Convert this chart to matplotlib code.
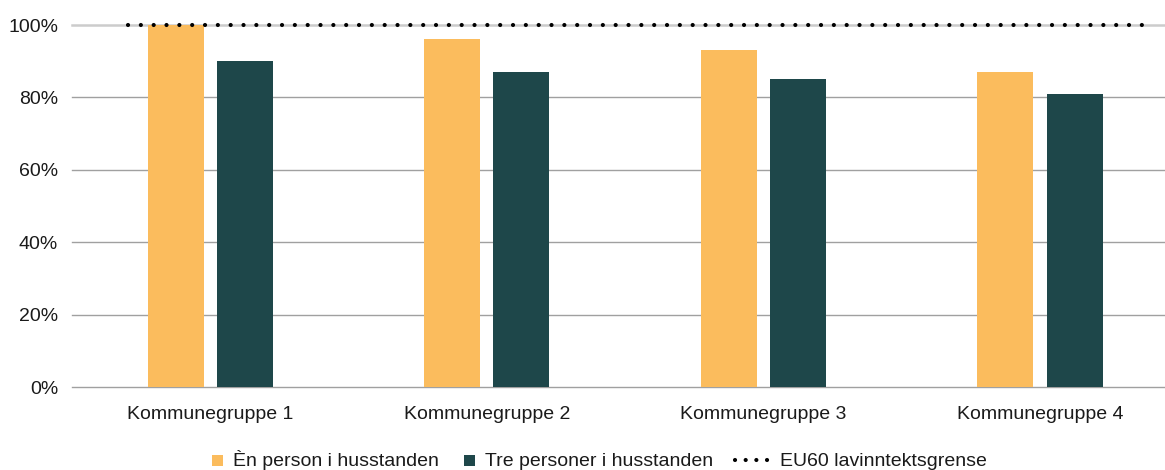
import matplotlib
matplotlib.use("Agg")
import matplotlib.pyplot as plt
import numpy as np
from matplotlib.lines import Line2D
from matplotlib.offsetbox import AnchoredOffsetbox, DrawingArea, HPacker, TextArea
from matplotlib.patches import Rectangle

categories = ["Kommunegruppe 1", "Kommunegruppe 2", "Kommunegruppe 3", "Kommunegruppe 4"]
one_person = [100, 96, 93, 87]
three_persons = [90, 87, 85, 81]
eu60_limit = 100
series_labels = ["Èn person i husstanden", "Tre personer i husstanden", "EU60 lavinntektsgrense"]
yticks = [0, 20, 40, 60, 80, 100]

ORANGE = "#FBBC5D"
TEAL = "#1E474A"
DOTS = (0, (0.01, 3.07))

plt.rcParams["font.family"] = ["Liberation Sans", "DejaVu Sans"]
plt.rcParams["font.size"] = 14

fig = plt.figure(figsize=(11.65, 4.70), dpi=100)
ax = fig.add_axes([72 / 1165, 1 - 387 / 470, 1 - 72 / 1165, (387 - 25) / 470])

x = np.arange(len(categories))
width = 0.2025
offset = 0.125
ax.bar(x - offset, one_person, width, color=ORANGE, zorder=2)
ax.bar(x + offset, three_persons, width, color=TEAL, zorder=2)

# dotted reference line spanning the groups
ax.plot([x[0] - 0.298, x[-1] + 0.405], [eu60_limit, eu60_limit], color="black",
        lw=3.0, linestyle=DOTS, dash_capstyle="round", clip_on=False, zorder=3)

ax.set_xlim(-0.5, 3.452)
ax.set_ylim(0, 100)
ax.set_yticks(yticks)
ax.set_yticklabels([f"{v}%" for v in yticks])
ax.set_xticks(x)
ax.set_xticklabels(categories)
ax.tick_params(axis="both", length=0, labelcolor="#1a1a1a")
ax.tick_params(axis="y", pad=10)
ax.tick_params(axis="x", pad=14)

for v in yticks:
    if v == 100:
        ax.axhline(v, color="#CCCCCC", lw=1.8, zorder=1, clip_on=False)
    else:
        ax.axhline(v, color="#A0A0A0", lw=1.0, zorder=1, clip_on=False)

for s in ax.spines.values():
    s.set_visible(False)


# legend built from small drawing areas (sizes in points), aligned on the text baseline
def square(color):
    da = DrawingArea(11.4, 7.8, 0, 0)
    da.add_artist(Rectangle((3.6, 0), 7.8, 7.8, facecolor=color, edgecolor="none"))
    return da


def dotted():
    da = DrawingArea(26, 8.6, 0, 0)
    da.add_artist(Line2D([1.5, 25.6], [4.3, 4.3], color="black", lw=3.0,
                         linestyle=(0, (0.01, 2.55)), dash_capstyle="round"))
    return da


entries = [(square(ORANGE), 7.2), (square(TEAL), 7.2), (dotted(), 8.0)]
items = []
for (h, gap), lab in zip(entries, series_labels):
    ta = TextArea(lab, textprops=dict(fontsize=14, color="#1a1a1a"))
    items.append(HPacker(children=[h, ta], align="baseline", pad=0, sep=gap))
legend_box = HPacker(children=items, align="baseline", pad=0, sep=14.4)
anchored = AnchoredOffsetbox(loc="center", child=legend_box, frameon=False,
                             bbox_to_anchor=(0.5125, 0.0206), bbox_transform=fig.transFigure,
                             borderpad=0, pad=0)
fig.add_artist(anchored)

fig.savefig("out.png", dpi=100)
